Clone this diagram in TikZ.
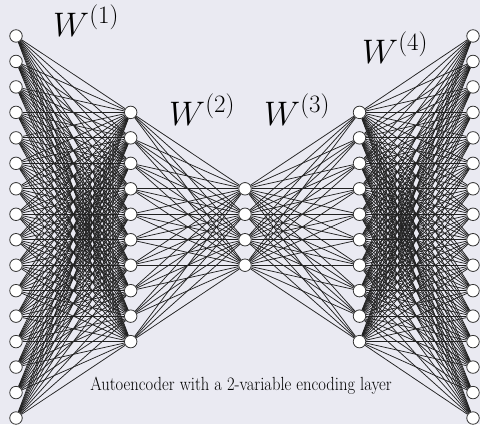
\RequirePackage{fix-cm}
\documentclass[tikz,border=0pt]{standalone}
\usepackage{graphicx}
\definecolor{bgc}{HTML}{EAEAF2}
\definecolor{edgec}{HTML}{222222}
\definecolor{nodec}{HTML}{333333}
\pgfdeclarelayer{back}
\pgfdeclarelayer{mid}
\pgfsetlayers{back,mid,main}
\newcommand{\wsup}[1]{$W^{\mbox{\fontsize{25}{30}\selectfont(#1)}}$}
\tikzset{
  neuron/.style={circle,draw=nodec,fill=white,line width=0.8pt,minimum size=12.5pt,inner sep=0pt},
  conn/.style={draw=edgec,line width=0.75pt},
  wlabel/.style={anchor=base west,inner sep=0pt,font=\fontsize{34}{40}\selectfont},
  caption/.style={anchor=base,inner sep=0pt}
}
\begin{document}
\begin{tikzpicture}[x=1pt,y=-1pt]
\begin{pgfonlayer}{back}
\fill[bgc] (0,0) rectangle (480,424);
\end{pgfonlayer}
\useasboundingbox (0,0) rectangle (480,424);
\def\sp{25.47}
\foreach \L/\n/\x in {1/16/16,2/10/130.7,3/4/245,4/10/359.5,5/16/473}{
  \foreach \i in {1,...,\n}{
    \node[neuron] (n\L-\i) at (\x,{227+(\i-(\n+1)/2)*\sp}) {};
  }
}
\begin{pgfonlayer}{mid}
\foreach \A/\na/\B/\nb in {1/16/2/10,2/10/3/4,3/4/4/10,4/10/5/16}{
  \foreach \i in {1,...,\na}{
    \foreach \j in {1,...,\nb}{
      \draw[conn] (n\A-\i) -- (n\B-\j);
    }
  }
}
\end{pgfonlayer}
\node[wlabel] (w1) at (53,36) {\wsup{1}};
\node[wlabel] (w2) at (169,125) {\wsup{2}};
\node[wlabel] (w3) at (264,125) {\wsup{3}};
\node[wlabel] (w4) at (362,63) {\wsup{4}};
\node[caption] (cap) at (241,390) {\scalebox{0.873}[1]{\fontsize{19}{22}\selectfont Autoencoder with a 2-variable encoding layer}};
\end{tikzpicture}
\end{document}
